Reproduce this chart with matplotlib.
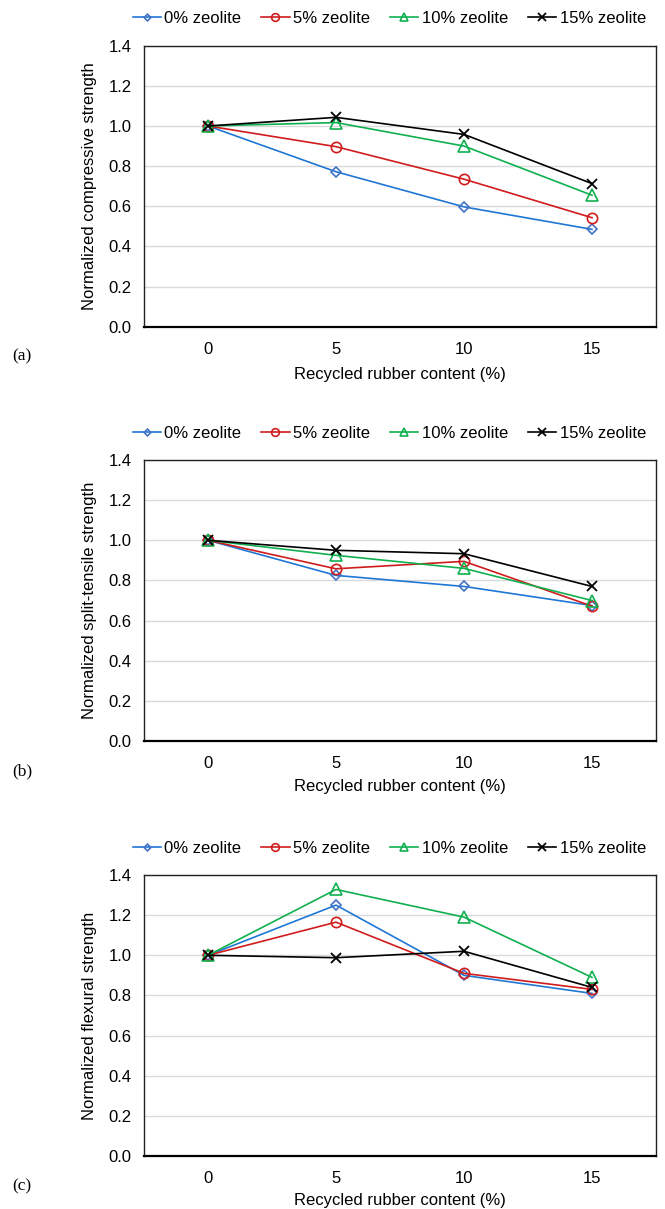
import numpy as np
import matplotlib.pyplot as plt

plt.rcParams['font.family'] = ['Liberation Sans', 'DejaVu Sans']

rubber = ['0', '5', '10', '15']
series_names = ['0% zeolite', '5% zeolite', '10% zeolite', '15% zeolite']

# normalized compressive strength
comp_0 = [1.0, 0.772, 0.597, 0.485]
comp_5 = [1.0, 0.897, 0.735, 0.543]
comp_10 = [1.0, 1.017, 0.900, 0.655]
comp_15 = [1.0, 1.043, 0.958, 0.713]

# normalized split-tensile strength
tens_0 = [1.0, 0.825, 0.770, 0.675]
tens_5 = [1.0, 0.858, 0.895, 0.672]
tens_10 = [1.0, 0.925, 0.860, 0.700]
tens_15 = [1.0, 0.950, 0.933, 0.770]

# normalized flexural strength
flex_0 = [1.0, 1.250, 0.900, 0.810]
flex_5 = [1.0, 1.165, 0.910, 0.830]
flex_10 = [1.0, 1.328, 1.190, 0.890]
flex_15 = [1.0, 0.988, 1.020, 0.840]

colors = ['#1f77d4', '#d01c1c', '#10b050', '#000000']
edge_colors = ['#4472c4', '#d01c1c', '#10b050', '#000000']
markers = ['D', 'o', '^', 'x']
msizes = [4.6, 7.4, 8.0, 7.4]

panels = [
    ('Normalized compressive strength', [comp_0, comp_5, comp_10, comp_15], '(a)'),
    ('Normalized split-tensile strength', [tens_0, tens_5, tens_10, tens_15], '(b)'),
    ('Normalized flexural strength', [flex_0, flex_5, flex_10, flex_15], '(c)'),
]

fig = plt.figure(figsize=(6.65, 12.09), dpi=100)
H = 1209.0
tops = [45.7, 460.0, 875.0]
xlab_off = [48, 46, 44]   # px below the axes, label centre
x = np.arange(len(rubber))
fs = 12

for (ylab, data, tag), top, xo in zip(panels, tops, xlab_off):
    ax = fig.add_axes([144 / 665, 1 - (top + 281) / H, 512 / 665, 281 / H])
    for vals, name, c, ec, m, ms in zip(data, series_names, colors, edge_colors, markers, msizes):
        if m == 'x':
            ax.plot(x, vals, color=c, lw=1.2, marker=m, ms=ms, mew=1.3, label=name)
        else:
            ax.plot(x, vals, color=c, lw=1.2, marker=m, ms=ms, mfc='none',
                    mec=ec, mew=1.2, label=name)
    ax.set_xlim(-0.5, 3.5)
    ax.set_ylim(0, 1.4)
    ax.set_yticks(np.arange(0, 1.41, 0.2))
    ax.set_yticklabels(['%.1f' % v for v in np.arange(0, 1.41, 0.2)])
    ax.set_xticks(x)
    ax.set_xticklabels(rubber)
    ax.tick_params(length=0, labelsize=fs, colors='#000000')
    ax.tick_params(axis='x', pad=11)
    ax.tick_params(axis='y', pad=9)
    ax.yaxis.grid(True, color='#d9d9d9', lw=1.0)
    ax.set_axisbelow(True)
    for s in ['left', 'right', 'top']:
        ax.spines[s].set_linewidth(1.0)
        ax.spines[s].set_color('#222222')
    ax.spines['bottom'].set_linewidth(1.6)
    ax.set_ylabel(ylab, fontsize=fs, labelpad=8)
    ax.set_xlabel('Recycled rubber content (%)', fontsize=fs, va='center')
    ax.xaxis.set_label_coords(0.5, -xo / 281)
    ax.legend(loc='center', bbox_to_anchor=(0.479, 1.096), ncol=4, frameon=False,
              fontsize=fs, handlelength=1.7, handletextpad=0.2, columnspacing=1.2,
              markerscale=0.75, borderaxespad=0, borderpad=0)
    fig.text(12 / 665, 1 - (top + 311) / H, tag, family='Liberation Serif', fontsize=12.5,
             va='center', ha='left')

fig.savefig('out.png', dpi=100)
